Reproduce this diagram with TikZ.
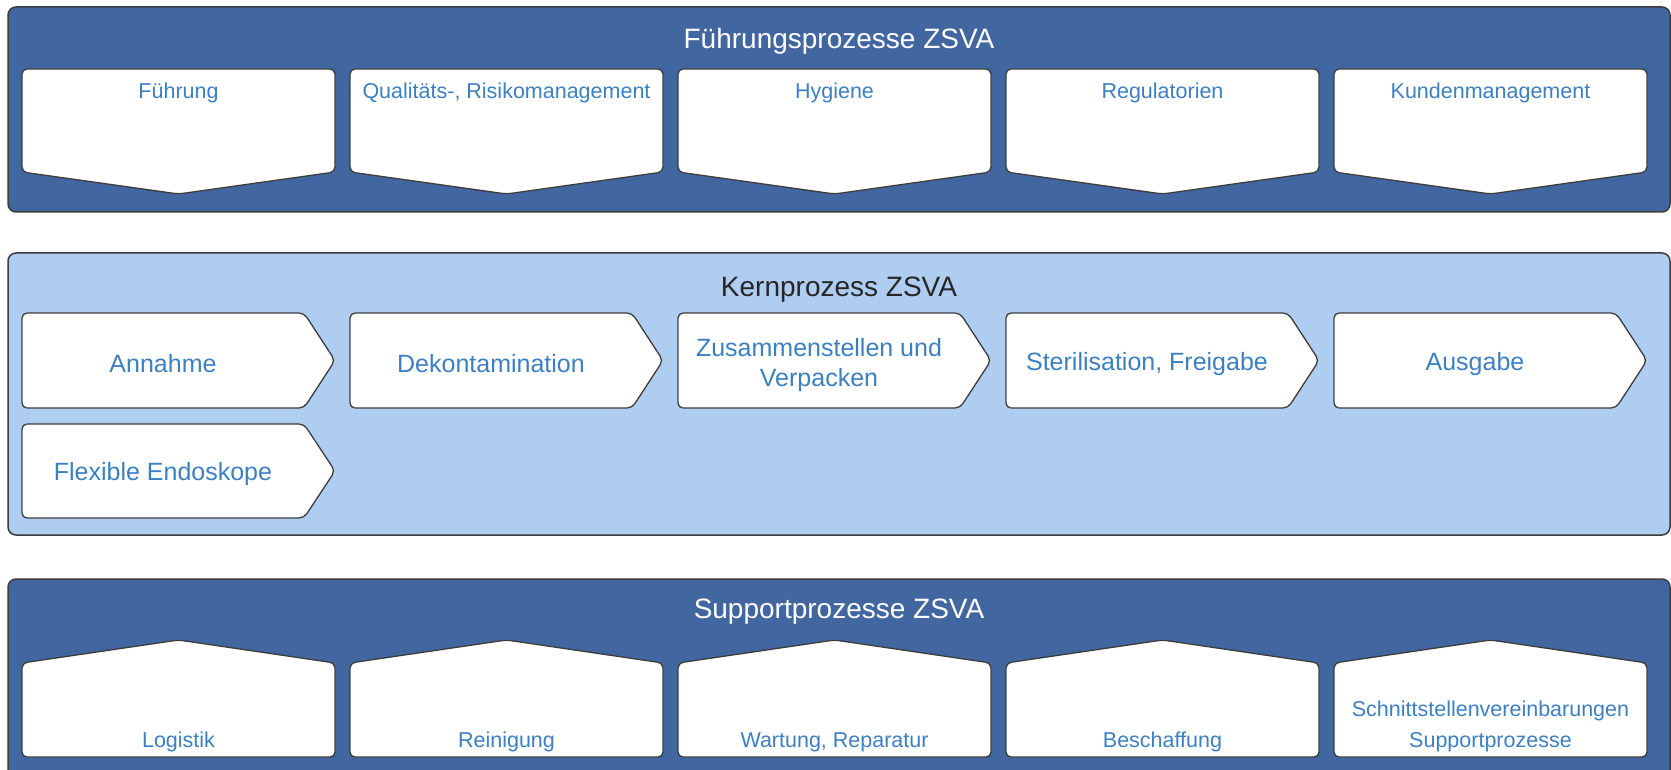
\documentclass[tikz,border=0pt]{standalone}
\usepackage{fontspec}
\setmainfont{Liberation Sans}
\definecolor{zsvadunkel}{RGB}{66,103,160}
\definecolor{zsvahell}{RGB}{175,205,240}
\definecolor{zsvatext}{RGB}{61,128,194}
\definecolor{zsvarand}{RGB}{60,60,60}

\begin{document}
\begin{tikzpicture}[x=1pt, y=-1pt,
  panel/.style={draw=zsvarand, line width=1.5pt, rounded corners=8pt},
  kasten/.style={draw=zsvarand, line width=1.3pt, fill=white, rounded corners=5pt},
  titel/.style={font=\fontsize{28}{32}\selectfont, inner sep=0pt},
  klein/.style={font=\fontsize{21.5}{31}\selectfont, text=zsvatext, align=center, inner sep=0pt},
  gross/.style={font=\fontsize{25}{30}\selectfont, text=zsvatext, align=center, inner sep=0pt}]
\clip (0,0) rectangle (1671,770);
% Fuehrungsprozesse
\draw[panel, fill=zsvadunkel] (8,7) rectangle (1670,212);
\node[titel, text=white] (tfp) at (839,41.5) {Führungsprozesse ZSVA};
\draw[kasten] (178.5,69) -- (335,69) -- (335,172) -- (178.5,194) -- (22,172) -- (22,69) -- cycle;
\draw[kasten] (506.5,69) -- (663,69) -- (663,172) -- (506.5,194) -- (350,172) -- (350,69) -- cycle;
\draw[kasten] (834.5,69) -- (991,69) -- (991,172) -- (834.5,194) -- (678,172) -- (678,69) -- cycle;
\draw[kasten] (1162.5,69) -- (1319,69) -- (1319,172) -- (1162.5,194) -- (1006,172) -- (1006,69) -- cycle;
\draw[kasten] (1490.5,69) -- (1647,69) -- (1647,172) -- (1490.5,194) -- (1334,172) -- (1334,69) -- cycle;
\node[klein] (fp1) at (178.5,93) {Führung};
\node[klein] (fp2) at (506.5,93) {Qualitäts-, Risikomanagement};
\node[klein] (fp3) at (834.5,93) {Hygiene};
\node[klein] (fp4) at (1162.5,93) {Regulatorien};
\node[klein] (fp5) at (1490.5,93) {Kundenmanagement};
% Kernprozess
\draw[panel, fill=zsvahell] (8,253) rectangle (1670,535);
\node[titel, text=black!85] (tkp) at (839,290) {Kernprozess ZSVA};
\draw[kasten] (163,313) -- (304,313) -- (335,360.5) -- (304,408) -- (22,408) -- (22,313) -- cycle;
\draw[kasten] (491,313) -- (632,313) -- (663,360.5) -- (632,408) -- (350,408) -- (350,313) -- cycle;
\draw[kasten] (819,313) -- (960,313) -- (991,360.5) -- (960,408) -- (678,408) -- (678,313) -- cycle;
\draw[kasten] (1147,313) -- (1288,313) -- (1319,360.5) -- (1288,408) -- (1006,408) -- (1006,313) -- cycle;
\draw[kasten] (1475,313) -- (1616,313) -- (1647,360.5) -- (1616,408) -- (1334,408) -- (1334,313) -- cycle;
\draw[kasten] (163,424) -- (304,424) -- (335,471) -- (304,518) -- (22,518) -- (22,424) -- cycle;
\node[gross] (kp1) at (163,364) {Annahme};
\node[gross] (kp2) at (491,364) {Dekontamination};
\node[gross] (kp3) at (819,365) {Zusammenstellen und\\Verpacken};
\node[gross] (kp4) at (1147,364) {Sterilisation, Freigabe};
\node[gross] (kp5) at (1475,364) {Ausgabe};
\node[gross] (kp6) at (163,474) {Flexible Endoskope};
% Supportprozesse
\draw[panel, fill=zsvadunkel] (8,579) rectangle (1670,800);
\node[titel, text=white] (tsp) at (839,612) {Supportprozesse ZSVA};
\draw[kasten] (178.5,757) -- (22,757) -- (22,663) -- (178.5,640) -- (335,663) -- (335,757) -- cycle;
\draw[kasten] (506.5,757) -- (350,757) -- (350,663) -- (506.5,640) -- (663,663) -- (663,757) -- cycle;
\draw[kasten] (834.5,757) -- (678,757) -- (678,663) -- (834.5,640) -- (991,663) -- (991,757) -- cycle;
\draw[kasten] (1162.5,757) -- (1006,757) -- (1006,663) -- (1162.5,640) -- (1319,663) -- (1319,757) -- cycle;
\draw[kasten] (1490.5,757) -- (1334,757) -- (1334,663) -- (1490.5,640) -- (1647,663) -- (1647,757) -- cycle;
\node[klein] (sp1) at (178.5,742) {Logistik};
\node[klein] (sp2) at (506.5,742) {Reinigung};
\node[klein] (sp3) at (834.5,742) {Wartung, Reparatur};
\node[klein] (sp4) at (1162.5,742) {Beschaffung};
\node[klein] (sp5) at (1490.5,726) {Schnittstellenvereinbarungen\\Supportprozesse};
\end{tikzpicture}
\end{document}
